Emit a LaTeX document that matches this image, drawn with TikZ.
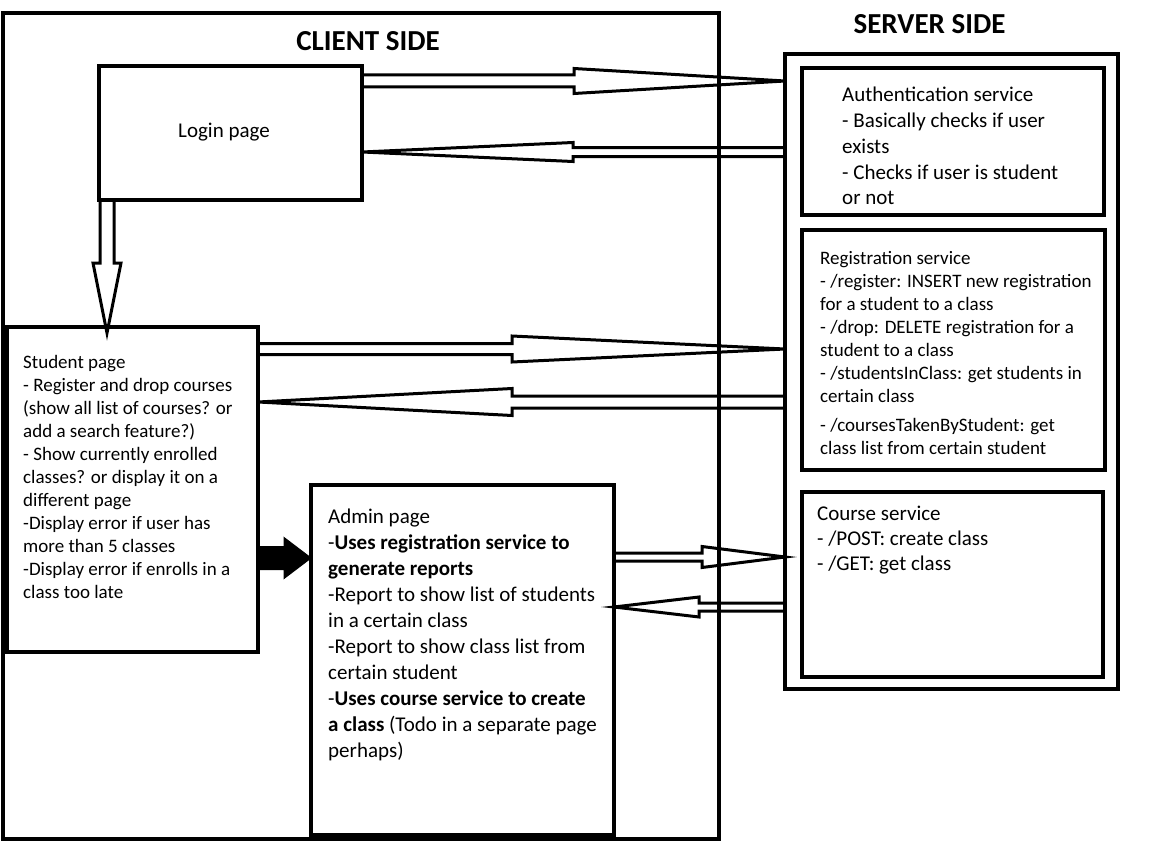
\documentclass[tikz,border=0pt]{standalone}
\usepackage{fontspec}
\setmainfont{Carlito}
\usetikzlibrary{calc}

\tikzset{
  box/.style={draw, line width=3.5pt, inner sep=0pt, outer sep=0pt, anchor=north west},
  arr/.style={draw, line width=3pt, line join=miter},
  fillarr/.style={draw, fill=black, line width=1pt, line join=miter},
  txts/.style={inner sep=0pt, anchor=base west, font=\fontsize{19}{23}\selectfont},
  txtl/.style={inner sep=0pt, anchor=base west, font=\fontsize{21}{26}\selectfont},
  title/.style={inner sep=0pt, anchor=base, font=\fontsize{29}{34}\selectfont\bfseries},
}

% #1 style, #2 tail, #3 tip, #4 head length, #5 shaft half width, #6 head half width
\newcommand\openarr[6][arr]{%
  \coordinate (hb) at ($#3!#4!#2$);
  \path[#1] ($#2!#5!90:#3$) -- ($(hb)!#5!90:#3$) -- ($(hb)!#6!90:#3$) -- #3
    -- ($(hb)!#6!-90:#3$) -- ($(hb)!#5!-90:#3$) -- ($#2!#5!-90:#3$) -- cycle;
}

\begin{document}
\begin{tikzpicture}[x=1pt,y=-1pt]
\useasboundingbox (0,0) rectangle (1152,843);

% boxes
\node[box, minimum width=716pt, minimum height=826pt] (client) at (3,13) {};
\node[box, minimum width=263pt, minimum height=134pt] (login) at (99,66) {};
\node[box, minimum width=251pt, minimum height=325pt] (student) at (7,327) {};
\node[box, minimum width=303pt, minimum height=350pt] (admin) at (311,485) {};
\node[box, minimum width=333pt, minimum height=635pt] (server) at (785,54) {};
\node[box, minimum width=302pt, minimum height=147pt] (auth) at (802,68) {};
\node[box, minimum width=303pt, minimum height=240pt] (reg) at (802,230) {};
\node[box, minimum width=301pt, minimum height=185pt] (course) at (802,492) {};

% titles
\node[title] (clienttitle) at (368,51) {CLIENT SIDE};
\node[title] (servertitle) at (929.5,34) {SERVER SIDE};

% texts
\node[inner sep=0pt, font=\fontsize{21}{26}\selectfont] (logintext) at (224,132) {Login page};

\node[txts] (studenttext) at (23,368) {\parbox[t]{300pt}{\raggedright
Student page\\
- Register and drop courses\\
(show all list of courses? or\\
add a search feature?)\\
- Show currently enrolled\\
classes? or display it on a\\
different page\\
-Display error if user has\\
more than 5 classes\\
-Display error if enrolls in a\\
class too late}};

\node[txtl] (admintext) at (328,523) {\parbox[t]{400pt}{\raggedright
Admin page\\
-\textbf{Uses registration service to}\\
\textbf{generate reports}\\
-Report to show list of students\\
in a certain class\\
-Report to show class list from\\
certain student\\
-\textbf{Uses course service to create}\\
\textbf{a class} (Todo in a separate page\\
perhaps)}};

\node[txtl, font=\fontsize{21}{25.7}\selectfont] (authtext) at (842,102) {\parbox[t]{300pt}{\raggedright
Authentication service\\
- Basically checks if user\\
exists\\
- Checks if user is student\\
or not}};

\node[txts] (regtext) at (820,264) {\parbox[t]{400pt}{\raggedright
Registration service\\
- /register: INSERT new registration\\
for a student to a class\\
- /drop: DELETE registration for a\\
student to a class\\
- /studentsInClass: get students in\\
certain class\\[6pt]
- /coursesTakenByStudent: get\\
class list from certain student}};

\node[txtl, font=\fontsize{21}{25}\selectfont] (coursetext) at (817,520) {\parbox[t]{300pt}{\raggedright
Course service\\
- /POST: create class\\
- /GET: get class}};

% arrow end points
\coordinate (a1t) at (login.east |- 0,81);
\coordinate (a1h) at (server.west |- 0,81);
\coordinate (a2t) at (server.west |- 0,152);
\coordinate (a2h) at (login.east |- 0,152);
\coordinate (a3t) at (student.east |- 0,349);
\coordinate (a3h) at (server.west |- 0,349);
\coordinate (a4t) at (server.west |- 0,402);
\coordinate (a4h) at (student.east |- 0,402);
\coordinate (a5t) at (admin.east |- 0,557);
\coordinate (a5h) at (server.west |- 0,557);
\coordinate (a6t) at (server.west |- 0,607);
\coordinate (a6h) at (admin.east |- 0,607);
\coordinate (a7t) at (login.south -| 107,0);
\coordinate (a7h) at ($(student.north -| 107,0)+(0,6)$);
\coordinate (a8t) at (student.east |- 0,558);
\coordinate (a8h) at (admin.west |- 0,558);

% arrows
\openarr{(a1t)}{(a1h)}{211pt}{6pt}{12.5pt}
\openarr{(a2t)}{(a2h)}{211pt}{4.5pt}{9.5pt}
\openarr{(a3t)}{(a3h)}{273pt}{5.5pt}{13pt}
\openarr{(a4t)}{(a4h)}{254pt}{6pt}{13.5pt}
\openarr{(a5t)}{(a5h)}{83pt}{4pt}{10.5pt}
\openarr{(a6t)}{(a6h)}{85pt}{4pt}{10pt}
\openarr{(a7t)}{(a7h)}{70pt}{7pt}{14pt}
\openarr[fillarr]{(a8t)}{(a8h)}{27pt}{11.5pt}{20.5pt}
\end{tikzpicture}
\end{document}
